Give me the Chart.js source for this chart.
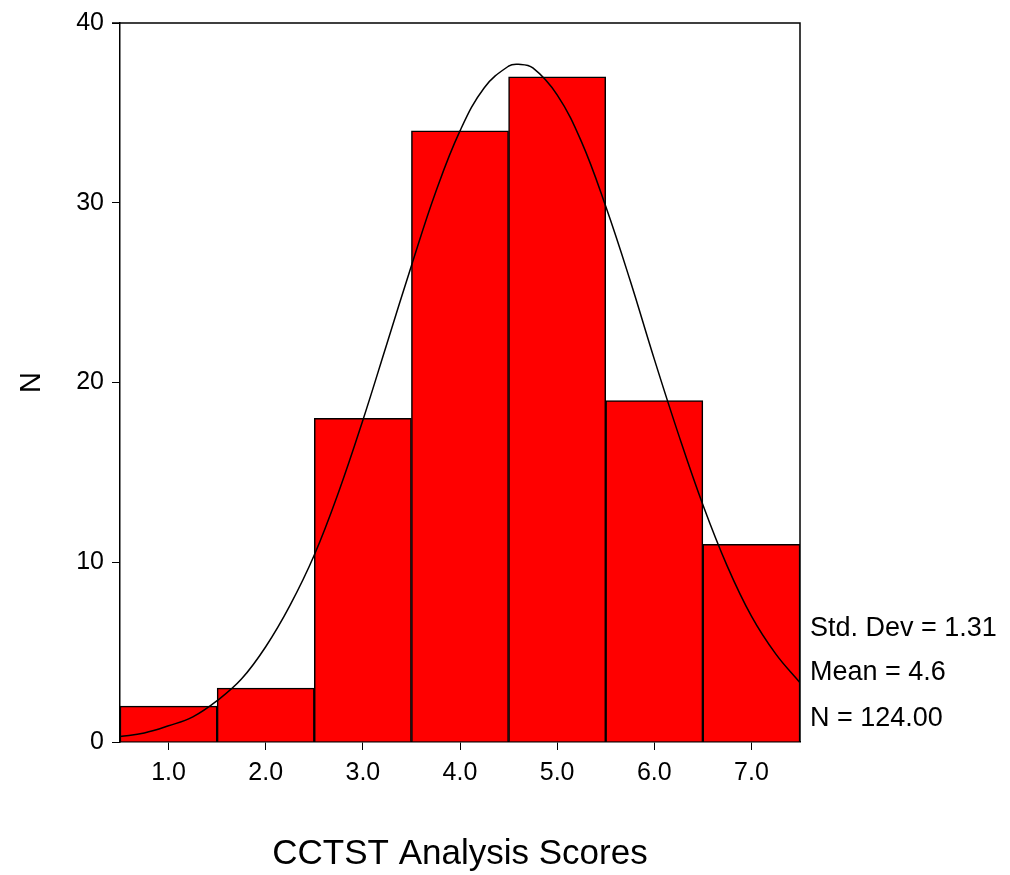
<!DOCTYPE html>
<html>
<head>
<meta charset="utf-8">
<script src="https://cdn.jsdelivr.net/npm/chart.js@4/dist/chart.umd.min.js"></script>
<style>
  html, body { margin: 0; padding: 0; background: #fff; }
  #wrap { width: 1010px; height: 875px; }
</style>
</head>
<body>
<div id="wrap"><canvas id="histChart"></canvas></div>
<script>
// histogram bins (score) and counts
const scoreBins = [1, 2, 3, 4, 5, 6, 7];
const counts = [2, 3, 18, 34, 37, 19, 11];
const xTickLabels = ['1.0', '2.0', '3.0', '4.0', '5.0', '6.0', '7.0'];
const yTickValues = [0, 10, 20, 30, 40];

// fitted normal curve
const curveX = [0.5, 0.75, 1.0, 1.25, 1.5, 1.75, 2.0, 2.25, 2.5, 2.75, 3.0, 3.25, 3.5, 3.75,
    4.0, 4.25, 4.5, 4.6, 4.75, 5.0, 5.25, 5.5, 5.75, 6.0, 6.25, 6.5, 6.75, 7.0, 7.25, 7.5];
const curveY = [0.3, 0.5, 0.9, 1.4, 2.3, 3.5, 5.3, 7.6, 10.4, 13.9, 17.9, 22.2, 26.5, 30.6,
    34.0, 36.4, 37.6, 37.7, 37.5, 36.0, 33.4, 29.8, 25.7, 21.3, 17.1, 13.2, 9.8, 7.0, 4.9, 3.3];

const statLines = ['Std. Dev = 1.31', 'Mean = 4.6', 'N = 124.00'];

const FONT = '"Liberation Sans", Arial, sans-serif';

// frame round the plot + the stats text on the right
const framePlugin = {
    id: 'frame',
    afterDatasetsDraw(chart) {
        const a = chart.chartArea;
        const c = chart.ctx;
        c.save();
        c.strokeStyle = '#000';
        c.lineWidth = 1.5;
        c.beginPath();
        c.moveTo(a.left - 8, a.top);
        c.lineTo(a.right, a.top);
        c.lineTo(a.right, a.bottom);
        c.stroke();
        c.fillStyle = '#000';
        c.font = '27px ' + FONT;
        c.textBaseline = 'middle';
        c.textAlign = 'left';
        const ys = [629, 673, 719];
        statLines.forEach((s, i) => c.fillText(s, a.right + 10, ys[i]));
        c.restore();
    },
};

const ctx = document.getElementById('histChart').getContext('2d');

new Chart(ctx, {
    data: {
        datasets: [
            {
                type: 'line',
                data: curveX.map((x, i) => ({ x: x, y: curveY[i] })),
                borderColor: '#000',
                borderWidth: 1.5,
                pointRadius: 0,
                tension: 0.4,
                fill: false,
                order: 0,
            },
            {
                type: 'bar',
                data: scoreBins.map((x, i) => ({ x: x, y: counts[i] })),
                backgroundColor: '#ff0000',
                borderColor: '#000',
                borderWidth: 1.5,
                barPercentage: 1,
                categoryPercentage: 1,
                order: 1,
            },
        ],
    },
    options: {
        responsive: true,
        maintainAspectRatio: false,
        animation: false,
        layout: { padding: { left: 0, top: 20, right: 210, bottom: 0 } },
        plugins: {
            legend: { display: false },
            tooltip: { enabled: false },
        },
        scales: {
            x: {
                type: 'linear',
                min: 0.5,
                max: 7.5,
                offset: false,
                afterBuildTicks: (s) => { s.ticks = scoreBins.map(v => ({ value: v })); },
                afterFit: (s) => { s.height = 133; },
                border: { display: true, color: '#000', width: 1.5 },
                grid: { offset: false, drawOnChartArea: false, color: '#000', tickLength: 8, lineWidth: 1 },
                ticks: {
                    color: '#000',
                    padding: 8,
                    maxRotation: 0,
                    font: { family: FONT, size: 25 },
                    callback: (v) => xTickLabels[scoreBins.indexOf(v)],
                },
                title: {
                    display: true,
                    text: 'CCTST Analysis Scores',
                    color: '#000',
                    font: { family: FONT, size: 35 },
                    padding: { top: 0, bottom: 0 },
                },
            },
            y: {
                min: 0,
                max: 40,
                afterBuildTicks: (s) => { s.ticks = yTickValues.map(v => ({ value: v })); },
                afterFit: (s) => { s.width = 120; },
                border: { display: true, color: '#000', width: 1.5 },
                grid: { drawOnChartArea: false, color: '#000', tickLength: 8, lineWidth: 1 },
                ticks: {
                    color: '#000',
                    padding: 8,
                    font: { family: FONT, size: 25 },
                },
                title: {
                    display: true,
                    text: 'N',
                    color: '#000',
                    font: { family: FONT, size: 29 },
                    padding: { top: 15, bottom: 0 },
                },
            },
        },
    },
    plugins: [framePlugin],
});
</script>
</body>
</html>
